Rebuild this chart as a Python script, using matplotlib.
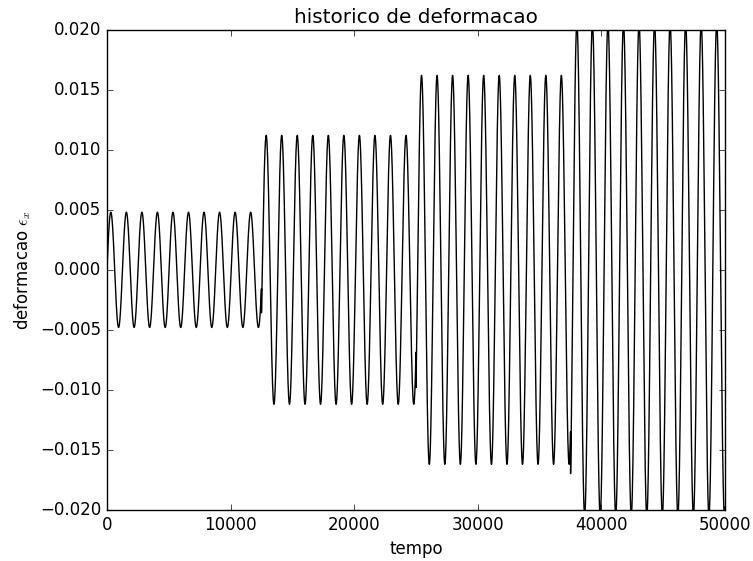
import numpy as np
import matplotlib
matplotlib.use("Agg")
import matplotlib.pyplot as plt

# strain history: sine load with amplitude stepped every 12500 time units
seg_edges = [0, 12500, 25000, 37500, 50000]
seg_amp = [0.0048, 0.0112, 0.0162, 0.0205]
period = 1256.5

plt.style.use('classic')

fig = plt.figure(figsize=(7.53, 5.61), dpi=100, facecolor='white')
ax = fig.add_axes([0.142, 0.091, 0.821, 0.856])

t = np.arange(seg_edges[0], seg_edges[-1] + 1, 2.0)
amp = np.zeros_like(t)
for i, a in enumerate(seg_amp):
    mask = (t >= seg_edges[i]) & (t <= seg_edges[i + 1])
    amp[mask] = a
eps = amp * np.sin(2 * np.pi * t / period)

ax.plot(t, eps, color='k', linewidth=1.0)

ax.set_xlim(0, 50000)
ax.set_ylim(-0.020, 0.020)
ax.set_xticks(np.arange(0, 50001, 10000))
ax.set_yticks(np.arange(-0.020, 0.0201, 0.005))
ax.set_title('historico de deformacao', fontsize=14.4)
ax.set_xlabel('tempo', fontsize=12)
ax.set_ylabel(r'deformacao $\epsilon_x$', fontsize=12)
ax.tick_params(labelsize=12)

plt.savefig('out.png', dpi=100, facecolor='white')
